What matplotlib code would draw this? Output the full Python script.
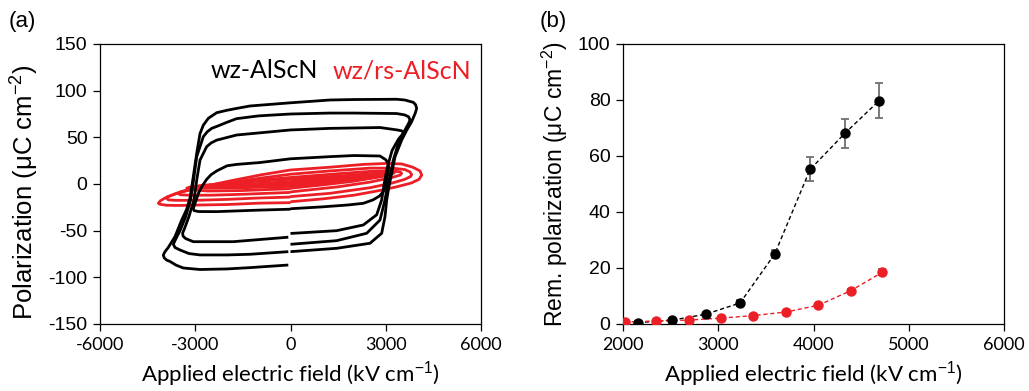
import matplotlib
matplotlib.use("Agg")
import matplotlib.pyplot as plt

plt.rcParams["font.family"] = ["Liberation Sans", "DejaVu Sans"]
plt.rcParams["mathtext.fontset"] = "custom"
plt.rcParams["mathtext.rm"] = "Liberation Sans"
plt.rcParams["mathtext.it"] = "Liberation Sans"
plt.rcParams["axes.unicode_minus"] = False

RED = "#ec1f26"

# ---- (a) P-E loops, E in kV/cm, P in uC/cm2 ----
# wz-AlScN (black), largest loop first
wz4_E = [0, 1455, 2504, 2872, 2976, 3030, 3100, 3165, 3291, 3501, 3650, 3816, 3930, 3974, 3940, 3868, 3600, 3344, 2000, 1244, 0,
         -1276, -1695, -2000, -2325, -2588, -2746, -2850, -2954, -3061, -3165, -3270, -3427, -3638, -3850, -3953, -4006,
         -3980, -3900, -3795, -3600, -3376, -2850, -2000, -1276, -69]
wz4_P = [-72.5, -68.9, -63.5, -52.8, -35, -17, -3, 7.8, 29, 47, 57, 66.8, 76, 81, 85, 87.5, 90, 90.8, 90.5, 90, 87,
         83.6, 81, 79, 76.4, 70.4, 63, 54, 33, 8, -15, -27, -38.6, -56.4, -68, -72.5, -76,
         -79, -81.5, -83, -87, -90, -91.6, -91, -89.6, -86.8]

wz3_E = [0, 1455, 2400, 2819, 2976, 3050, 3134, 3238, 3396, 3606, 3720, 3764, 3720, 3600, 3344, 2000, 1244, 0,
         -1000, -1700, -2010, -2300, -2483, -2620, -2746, -2954, -3050, -3150, -3300, -3480, -3600, -3690,
         -3640, -3480, -3200, -2850, -2000, -1276, -69]
wz3_P = [-64.6, -60.7, -52.8, -38.6, -17, -3, 7.8, 25.7, 43.6, 57.9, 65, 68.6, 72, 74, 75.5, 76, 76, 75,
         73, 70, 66, 62, 59.6, 56, 50.7, 29.3, 5, -17, -35, -50, -58, -64.5,
         -68, -70.7, -74.5, -76, -76, -75.3, -72.5]

wz2_E = [0, 1455, 2293, 2714, 2872, 2950, 3050, 3200, 3400, 3520, 3560, 3500, 3344, 2819, 1244, 0,
         -1695, -2325, -2500, -2640, -2850, -2950, -3040, -3200, -3330, -3400, -3380, -3300, -3061, -1800, -69]
wz2_P = [-53, -50, -43.9, -33, -17, 0, 18, 36, 48, 53, 55, 57, 58, 60.5, 59.6, 57.9,
         52.5, 47, 44, 40, 25.7, 5, -17, -35, -47, -52.8, -56, -58.5, -61.8, -61.8, -57]

wz1_E = [0, 1000, 1800, 2293, 2600, 2800, 2924, 3000, 3060, 3090, 3081, 3000, 2819, 2000, 1244, 0,
         -961, -1695, -2000, -2325, -2500, -2640, -2780, -2900, -3000, -3061, -3040, -2900, -2325, -1000, 0]
wz1_P = [-26.5, -24.5, -22.5, -20.7, -17, -13, -8.2, 0, 10, 18, 22, 26, 30, 30.5, 29.3, 27,
         23, 21, 19.5, 14, 10, 5, -2, -10, -20, -26, -28.5, -29.5, -29.6, -28, -27]

# wz/rs-AlScN (red), largest loop first
rs4_E = [0, 1000, 2000, 2800, 3344, 3800, 4050, 4132, 4080, 3850, 3500, 3000, 2300, 1244, 0,
         -900, -1800, -2800, -3400, -3900, -4100, -4163, -4100, -3900, -3500, -2850, -2000, -961, 0]
rs4_P = [-19, -16, -12, -7, -3, 1, 5, 9.6, 14, 18, 21.5, 22, 21, 18, 15,
         10, 4, -3, -8, -14, -18, -20.7, -21.8, -22.8, -23, -22.5, -22, -20.5, -20]

rs3_E = [0, 1244, 2500, 3200, 3600, 3780, 3817, 3760, 3600, 3200, 2500, 1244, 0,
         -1000, -2000, -3000, -3600, -3850, -3900, -3850, -3600, -3000, -2000, -1000, 0]
rs3_P = [-13.5, -10, -4, 1, 5, 8, 10, 13, 15.5, 17, 17, 14, 10.5,
         6, 1, -5, -10, -13.5, -15.3, -17, -17.5, -17.5, -16.5, -15, -14]

rs2_E = [0, 1500, 2500, 3200, 3450, 3501, 3450, 3200, 2500, 1500, 0,
         -1500, -2500, -3200, -3480, -3533, -3480, -3200, -2500, -1500, 0]
rs2_P = [-8.5, -3, 2, 7, 9.5, 11.4, 13, 14, 13.5, 11, 7,
         2.5, -2, -6, -8.5, -10, -11.5, -12, -12, -11, -9]

rs1_E = [0, 1000, 2000, 3000, 3250, 3291, 3250, 3100, 2600, 1500, 0,
         -1500, -2800, -3200, -3270, -3200, -2600, -1500, 0]
rs1_P = [-4.5, -1, 3, 9, 11.5, 13, 13.5, 13, 11, 8.5, 5,
         2, -1.5, -3.5, -4.6, -6, -7.5, -7, -5]

rs0_E = [0, 1500, 2600, 3000, 3100, 3000, 2600, 1500, 0, -1500, -2600, -2950, -3000, -2950, -2600, -1500, 0]
rs0_P = [-2, 2, 6.5, 9, 11, 12, 11, 7.5, 2.5, -0.5, -2.5, -3, -3.5, -4, -4.5, -4, -2.5]

rs00_E = [0, 1500, 2500, 2900, 2500, 1500, 0, -1500, -2500, -2800, -2500, -1500, 0]
rs00_P = [0, 3.5, 7, 9, 9, 5.5, 1, -1.5, -3, -3.5, -4, -3, -1]

# ---- (b) remanent polarization vs applied field ----
wz_field = [2158, 2519, 2869, 3229, 3593, 3964, 4329, 4690]
wz_pr = [0.5, 1.4, 3.5, 7.5, 25, 55.2, 68.1, 79.8]
wz_err = [0.5, 0.5, 0.7, 1.0, 1.4, 4.3, 5.1, 6.1]

rs_field = [2018, 2350, 2690, 3029, 3365, 3716, 4052, 4391, 4724]
rs_pr = [0.7, 1.1, 1.4, 2.1, 3.0, 4.3, 6.7, 11.9, 18.5]
rs_err = [0.3, 0.3, 0.3, 0.4, 0.4, 0.5, 0.6, 0.7, 1.0]

fig = plt.figure(figsize=(10.29, 3.91), dpi=100)
ax1 = fig.add_axes([100 / 1029, 67 / 391, 381 / 1029, 280 / 391])
ax2 = fig.add_axes([623 / 1029, 67 / 391, 381 / 1029, 280 / 391])

red_loops = [(rs4_E, rs4_P), (rs3_E, rs3_P), (rs2_E, rs2_P), (rs1_E, rs1_P), (rs0_E, rs0_P), (rs00_E, rs00_P)]
for e, p in red_loops:
    ax1.plot(e, p, color=RED, lw=2.0, solid_joinstyle="round", solid_capstyle="butt")
black_loops = [(wz4_E, wz4_P), (wz3_E, wz3_P), (wz2_E, wz2_P), (wz1_E, wz1_P)]
for e, p in black_loops:
    ax1.plot(e, p, color="black", lw=2.0, solid_joinstyle="round", solid_capstyle="butt")

ax1.set_xlim(-6000, 6000)
ax1.set_ylim(-150, 150)
ax1.set_xticks([-6000, -3000, 0, 3000, 6000])
ax1.set_yticks(range(-150, 151, 50))
ax1.text(0.43, 0.905, "wz-AlScN", transform=ax1.transAxes, fontsize=18, family="Lato", ha="center", va="center")
ax1.text(0.793, 0.905, "wz/rs-AlScN", transform=ax1.transAxes, fontsize=18, family="Lato", color=RED, ha="center", va="center")
ax1.set_ylabel(r"Polarization ($\mathrm{\mu}$C cm$^{-2}$)", fontsize=18.5, va="center")
ax1.yaxis.set_label_coords(-0.197, 0.47)
ax1.set_xlabel(r"Applied electric field (kV cm$^{-1}$)", fontsize=16, family="Lato", va="center")
ax1.xaxis.set_label_coords(0.5, -0.178)

ax2.errorbar(wz_field, wz_pr, yerr=wz_err, fmt="o", color="black", ms=6.5, ecolor="#707070", elinewidth=1.3, capsize=3, capthick=1.3, zorder=3)
ax2.plot(wz_field, wz_pr, ls=(0, (3, 2)), color="black", lw=1.0, zorder=2)
ax2.errorbar(rs_field, rs_pr, yerr=rs_err, fmt="o", color=RED, ms=6.5, ecolor="#707070", elinewidth=1.3, capsize=3, capthick=1.3, zorder=3)
ax2.plot(rs_field, rs_pr, ls=(0, (3, 2)), color=RED, lw=1.0, zorder=2)
ax2.set_xlim(2000, 6000)
ax2.set_ylim(0, 100)
ax2.set_xticks(range(2000, 6001, 1000))
ax2.set_yticks(range(0, 101, 20))
ax2.set_ylabel(r"Rem. polarization ($\mathrm{\mu}$C cm$^{-2}$)", fontsize=16.5, va="center")
ax2.yaxis.set_label_coords(-0.178, 0.5)
ax2.set_xlabel(r"Applied electric field (kV cm$^{-1}$)", fontsize=16, family="Lato", va="center")
ax2.xaxis.set_label_coords(0.5, -0.178)

for ax in (ax1, ax2):
    for s in ax.spines.values():
        s.set_linewidth(0.9)
    ax.tick_params(direction="out", length=5, width=0.9, labelsize=14, pad=4)
    for lab in ax.get_xticklabels():
        lab.set_family("Lato")
        lab.set_fontsize(13)

fig.text(9 / 1029, 1 - 22 / 391, "(a)", fontsize=16, va="center")
fig.text(540 / 1029, 1 - 22 / 391, "(b)", fontsize=16, va="center")

fig.savefig("out.png", dpi=100)
